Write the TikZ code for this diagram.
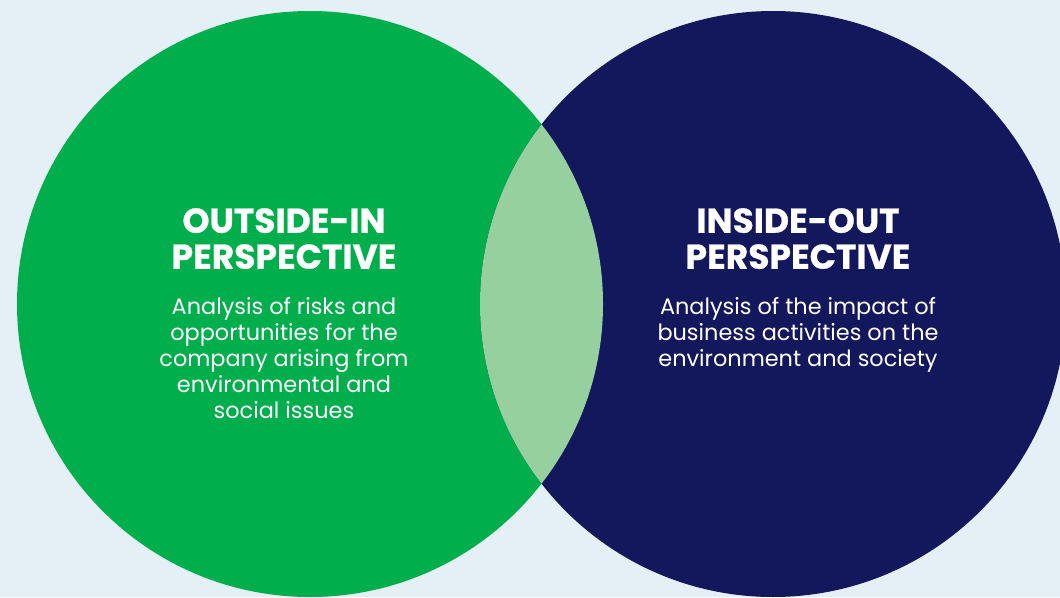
\documentclass[tikz,border=0pt]{standalone}
\usepackage{fontspec}
\setmainfont{Poppins}
\newfontfamily\heavy{Poppins}[BoldFeatures={FakeBold=0.7}]
\definecolor{bg}{HTML}{E4EFF6}
\definecolor{vgreen}{HTML}{00AE4B}
\definecolor{vnavy}{HTML}{13175B}
\definecolor{vlens}{HTML}{96D09E}
\begin{document}
\begin{tikzpicture}[x=1pt,y=-1pt,
  disc/.style={circle,inner sep=0pt,minimum size=586pt},
  title/.style={text=white,align=center,inner sep=0pt,font=\fontsize{34.5}{36}\selectfont\heavy\bfseries},
  body/.style={text=white,align=center,inner sep=0pt,font=\fontsize{22.4}{26}\selectfont}]
\fill[bg] (0,0) rectangle (1060,597);
\useasboundingbox (0,0) rectangle (1060,597);
\node[disc,fill=vgreen] (gc) at (310,304) {};
\node[disc,fill=vnavy] (nc) at (773,304) {};
\begin{scope}
  \clip (310,304) circle (293);
  \fill[vlens] (773,304) circle (293);
\end{scope}
\node[title,anchor=north] (t1) at (284,208) {OUTSIDE-IN\\PERSPECTIVE};
\node[body,anchor=north] (b1) at (284,297) {Analysis of risks and\\opportunities for the\\company arising from\\environmental and\\social issues};
\node[title,anchor=north] (t2) at (798,208) {INSIDE-OUT\\PERSPECTIVE};
\node[body,anchor=north] (b2) at (798,297) {Analysis of the impact of\\business activities on the\\environment and society};
\end{tikzpicture}
\end{document}
